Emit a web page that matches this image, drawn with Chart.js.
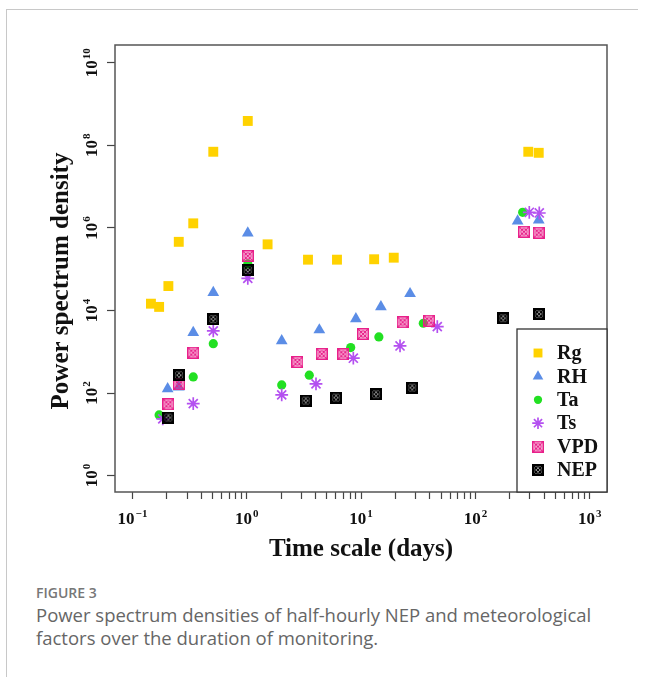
<!DOCTYPE html>
<html>
<head>
<meta charset="utf-8">
<script src="https://cdn.jsdelivr.net/npm/chart.js@4.4.0/dist/chart.umd.min.js"></script>
<style>
  body{margin:0;background:#fff;width:646px;height:677px;overflow:hidden;position:relative;font-family:"Open Sans",sans-serif}
  .frame{position:absolute;left:6px;top:9px;width:631px;height:668px;border-left:1px solid #c8c8c8;border-top:1px solid #c8c8c8}
  #wrap{position:absolute;left:0;top:0;width:646px;height:580px}
  .fig{position:absolute;left:36px;top:583px;font-size:14px;font-weight:600;color:#777;line-height:20px}
  .cap{position:absolute;left:36px;top:603px;width:605px;font-size:18.5px;line-height:23px;color:#666}
</style>
</head>
<body>
<div class="frame"></div>
<div id="wrap"><canvas id="psd" width="646" height="580"></canvas></div>
<div class="fig">FIGURE 3</div>
<div class="cap">Power spectrum densities of half-hourly NEP and meteorological factors over the duration of monitoring.</div>
<script>
// values (time scale in days, power spectrum density)
const names=['Rg','RH','Ta','Ts','VPD','NEP'];

const rgX=[0.145,0.171,0.206,0.254,0.340,0.509,1.02,1.52,3.43,6.15,13.0,19.3,290,358];
const rgY=[1.46e4,1.22e4,3.9e4,4.6e5,1.29e6,7.0e7,3.9e8,4.0e5,1.7e5,1.7e5,1.74e5,1.9e5,7.0e7,6.6e7];

const rhX=[0.203,0.254,0.340,0.509,1.02,2.02,4.31,9.0,14.9,26.8,234,358];
const rhY=[126,140,2.9e3,2.7e4,7.5e5,1.83e3,3.37e3,6.3e3,1.22e4,2.55e4,1.47e6,1.55e6];

const taX=[0.171,0.340,0.509,1.02,2.02,3.52,8.11,14.3,35.0,259];
const taY=[29.5,245,1.57e3,1.34e5,157,270,1.26e3,2.28e3,4.9e3,2.39e6];

const tsX=[0.184,0.340,0.509,1.02,2.02,4.03,8.55,21.9,46.4,296,362];
const tsY=[23.6,55.4,3.19e3,6.0e4,90,166,697,1.38e3,4.05e3,2.39e6,2.3e6];

const vpdX=[0.206,0.255,0.340,1.02,2.77,4.52,6.98,10.4,23.1,39.3,266,358];
const vpdY=[53.6,163,951,2.09e5,566,885,871,2.7e3,5.2e3,5.66e3,8.1e5,7.65e5];

const nepX=[0.206,0.255,0.509,1.02,3.28,6.03,13.5,28.0,175,360];
const nepY=[25.4,270,6.2e3,9.6e4,65.5,77.4,93.5,135,6.5e3,8.2e3];

const xMajor=[0.1,1,10,100,1000];
const xMinor=[2,3,4,5,6,7,8,9];
const yTicks=[1,1e2,1e4,1e6,1e8,1e10];

const serif='"Liberation Serif","Times New Roman",serif';

// exponent text of a power of ten, or null for minor ticks
function expOf(v){
  const e=Math.round(Math.log10(v));
  if(Math.abs(v/Math.pow(10,e)-1)>1e-6) return null;
  return String(e).replace('-','\u2212');
}

// "10" with a raised exponent, centred on (x,y) baseline, optionally rotated
function drawPow(ctx,e,x,y,rot){
  const base='bold 17px '+serif, small='bold 11px '+serif;
  ctx.save();
  ctx.translate(x,y);ctx.rotate(rot);
  ctx.textAlign='left';ctx.textBaseline='alphabetic';ctx.fillStyle='#111';
  ctx.font=base;const wb=ctx.measureText('10').width;
  ctx.font=small;const we=ctx.measureText(e).width;
  const s=-(wb+we+1)/2;
  ctx.font=base;ctx.fillText('10',s,0);
  ctx.font=small;ctx.fillText(e,s+wb+1,-7.5);
  ctx.restore();
}

// square with cross and ring, like the R symbols used for VPD / NEP
function boxMarker(color,lwBox,lwIn){
  const s=12,c=document.createElement('canvas');
  c.width=c.height=s;
  const g=c.getContext('2d');
  g.strokeStyle=color;
  g.lineWidth=lwBox;g.strokeRect(lwBox/2,lwBox/2,s-lwBox,s-lwBox);
  g.lineWidth=lwIn;
  g.beginPath();g.moveTo(1,1);g.lineTo(s-1,s-1);g.moveTo(s-1,1);g.lineTo(1,s-1);g.stroke();
  g.beginPath();g.arc(s/2,s/2,3.1,0,Math.PI*2);g.stroke();
  return c;
}

const pts=(xs,ys)=>xs.map((x,i)=>({x:x,y:ys[i]}));

const datasets=[
  {label:names[0],data:pts(rgX,rgY),pointStyle:'rect',pointRadius:7,backgroundColor:'#FFD200',borderColor:'#FFD200',borderWidth:0},
  {label:names[1],data:pts(rhX,rhY),pointStyle:'triangle',pointRadius:6.8,backgroundColor:'#5B8DE6',borderColor:'#5B8DE6',borderWidth:0},
  {label:names[2],data:pts(taX,taY),pointStyle:'circle',pointRadius:4.6,backgroundColor:'#22E022',borderColor:'#22E022',borderWidth:0},
  {label:names[3],data:pts(tsX,tsY),pointStyle:'star',pointRadius:6.4,backgroundColor:'#B450F0',borderColor:'#B450F0',borderWidth:1.7},
  {label:names[4],data:pts(vpdX,vpdY),pointStyle:boxMarker('#E8208A',1.6,1.2),pointRadius:6,backgroundColor:'#E8208A',borderColor:'#E8208A',borderWidth:0},
  {label:names[5],data:pts(nepX,nepY),pointStyle:boxMarker('#000',2.4,1.4),pointRadius:6,backgroundColor:'#000',borderColor:'#000',borderWidth:0}
];
datasets.forEach((d,i)=>{d.order=datasets.length-i;d.pointHoverRadius=d.pointRadius;});

const boxAndLegend={
  id:'boxAndLegend',
  afterDraw(chart){
    const {ctx,chartArea:a,scales}=chart;
    ctx.save();
    // tick labels with real superscripts
    scales.x.ticks.forEach(t=>{
      const e=expOf(t.value);
      if(e!==null) drawPow(ctx,e,scales.x.getPixelForValue(t.value),524,0);
    });
    scales.y.ticks.forEach(t=>{
      const e=expOf(t.value);
      if(e!==null) drawPow(ctx,e,97,scales.y.getPixelForValue(t.value),-Math.PI/2);
    });
    // plot box
    ctx.strokeStyle='#555';ctx.lineWidth=1.5;
    ctx.strokeRect(a.left,a.top,a.right-a.left,a.bottom-a.top);
    // legend
    const w=90,h=163,lx=a.right-w,ly=a.bottom-h;
    ctx.fillStyle='#fff';ctx.fillRect(lx,ly,w,h);
    ctx.strokeStyle='#333';ctx.lineWidth=1.3;ctx.strokeRect(lx,ly,w,h);
    chart.data.datasets.forEach((d,i)=>{
      const y=ly+24+i*23.4;
      ctx.fillStyle=d.backgroundColor;ctx.strokeStyle=d.borderColor;ctx.lineWidth=d.borderWidth;
      Chart.helpers.drawPoint(ctx,{pointStyle:d.pointStyle,radius:d.pointRadius*0.9,borderWidth:d.borderWidth,rotation:0},lx+21,y);
      ctx.fillStyle='#111';ctx.font='bold 20px '+serif;ctx.textBaseline='middle';ctx.textAlign='left';
      ctx.fillText(d.label,lx+40,y+1);
    });
    ctx.restore();
  }
};

new Chart(document.getElementById('psd'),{
  type:'scatter',
  data:{datasets:datasets},
  options:{
    responsive:false,
    animation:false,
    layout:{padding:{left:0,top:45,right:39,bottom:0}},
    plugins:{legend:{display:false},tooltip:{enabled:false}},
    scales:{
      x:{
        type:'logarithmic',min:0.0703,max:1416,
        afterBuildTicks:s=>{
          const t=[];
          xMajor.forEach((m,i)=>{
            t.push({value:m,major:true});
            if(i<xMajor.length-1) xMinor.forEach(k=>t.push({value:m*k}));
          });
          s.ticks=t;
        },
        afterFit:s=>{s.height=88;},
        border:{display:false},
        grid:{drawOnChartArea:false,tickLength:7,tickColor:'#444',tickWidth:1.2},
        ticks:{display:false,autoSkip:false},
        title:{display:true,text:'Time scale (days)',color:'#111',
          font:{family:serif,size:25,weight:'bold'},padding:{top:0,bottom:15}}
      },
      y:{
        type:'logarithmic',min:0.4,max:2.7e10,
        afterBuildTicks:s=>{s.ticks=yTicks.map(v=>({value:v,major:true}));},
        afterFit:s=>{s.width=115;},
        border:{display:false},
        grid:{drawOnChartArea:false,tickLength:8,tickColor:'#444',tickWidth:1.2},
        ticks:{display:false,autoSkip:false},
        title:{display:true,text:'Power spectrum density\u00A0\u00A0\u00A0\u00A0',color:'#111',
          font:{family:serif,size:25,weight:'bold'},padding:{top:47}}
      }
    }
  },
  plugins:[boxAndLegend]
});
</script>
</body>
</html>
